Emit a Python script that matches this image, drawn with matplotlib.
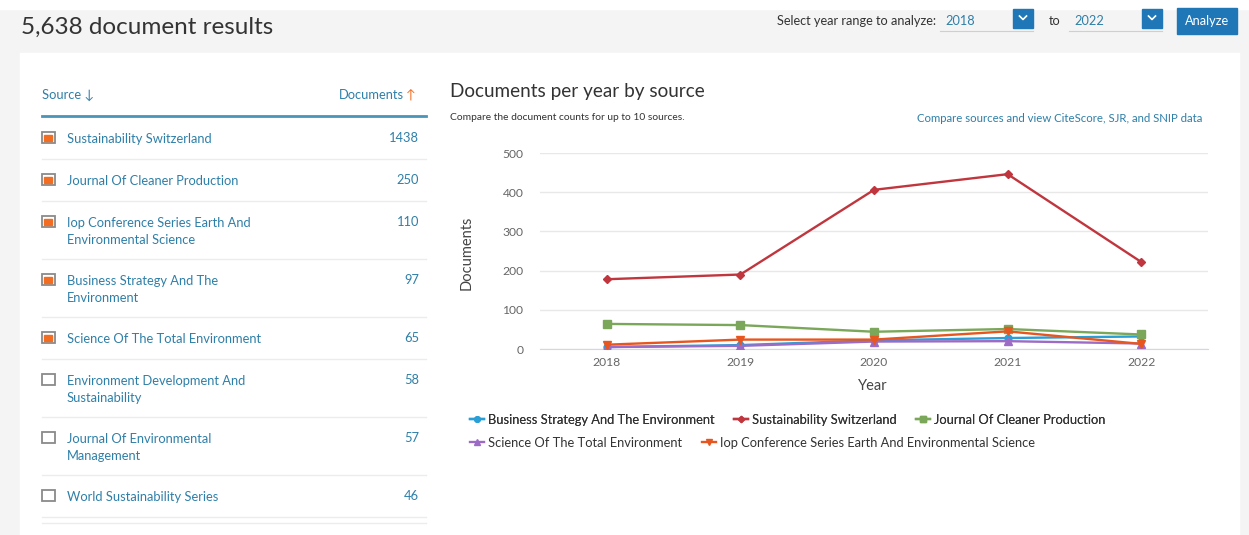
import numpy as np
import matplotlib.pyplot as plt
from matplotlib.patches import Rectangle

plt.rcParams['font.family'] = ['Lato', 'DejaVu Sans']

W, H = 1249, 535

# chart data
years = ["2018", "2019", "2020", "2021", "2022"]
business = [5, 10, 22, 28, 32]
sustain = [178, 190, 406, 446, 222]
cleaner = [64, 61, 44, 51, 37]
science = [5, 8, 19, 20, 14]
iop = [11, 24, 24, 45, 13]

# left table
sources = ["Sustainability Switzerland", "Journal Of Cleaner Production",
           "Iop Conference Series Earth And\nEnvironmental Science",
           "Business Strategy And The\nEnvironment",
           "Science Of The Total Environment",
           "Environment Development And\nSustainability",
           "Journal Of Environmental\nManagement",
           "World Sustainability Series"]
counts = [1438, 250, 110, 97, 65, 58, 57, 46]
selected = [True, True, True, True, True, False, False, False]

LINK = '#2e7fa8'
DARK = '#333333'
GREY = '#666666'

fig = plt.figure(figsize=(W / 100, H / 100), dpi=100)
bg = fig.add_axes([0, 0, 1, 1])
bg.set_xlim(0, W)
bg.set_ylim(H, 0)
bg.axis('off')

bg.add_patch(Rectangle((0, 0), W, H, color='#f4f4f4'))
bg.add_patch(Rectangle((0, 0), W, 9, color='white'))
bg.add_patch(Rectangle((20, 53), 1219, H - 53, color='white'))

# header
bg.text(21, 27, "5,638 document results", fontsize=17.5, color=DARK, va='center')
bg.text(777, 21, "Select year range to analyze:", fontsize=9.2, color=DARK, va='center')
for x0, yr, bx in [(945, "2018", 1013), (1074, "2022", 1142)]:
    bg.text(x0, 21, yr, fontsize=9.2, color=LINK, va='center')
    bg.plot([x0 - 5, bx + 20], [31, 31], color='#cfcfcf', lw=0.8)
    bg.add_patch(Rectangle((bx, 9), 20, 19, color='#1f77b8'))
    bg.plot([bx + 6.5, bx + 10, bx + 13.5], [16, 19.5, 16], color='white', lw=1.2)
bg.text(1049, 21, "to", fontsize=9.2, color=DARK, va='center')
bg.add_patch(Rectangle((1177, 8), 60, 26, color='#1f77b8'))
bg.text(1207, 21, "Analyze", fontsize=9.2, color='white', va='center', ha='center')

# left table
bg.text(42, 95, "Source \u2193", fontsize=9.3, color=LINK, va='center')
bg.text(404, 95, "Documents", fontsize=9.3, color=LINK, va='center', ha='right')
bg.text(406, 95, "\u2191", fontsize=9.3, color='#f26d21', va='center', ha='left')
bg.plot([42, 426], [116, 116], color='#4a94b8', lw=2)
top = 117
for name, n, sel in zip(sources, counts, selected):
    lines = name.count("\n") + 1
    ty = top + 21
    bg.add_patch(Rectangle((42, ty - 6), 13, 11, facecolor='white',
                           edgecolor='#8a8a8a', lw=1.3))
    if sel:
        bg.add_patch(Rectangle((44.5, ty - 3.5), 8, 6, color='#f26d21'))
    bg.text(67, ty - 5, name, fontsize=9.3, color=LINK, va='top', ha='left',
            linespacing=1.45)
    bg.text(419, ty, str(n), fontsize=9.3, color=LINK, va='center', ha='right')
    top += 42 + 16 * (lines - 1)
    bg.plot([42, 426], [top, top], color='#ececec', lw=1)
bg.plot([42, 426], [523, 523], color='#ececec', lw=1)

# chart header
bg.text(450, 92, "Documents per year by source", fontsize=13.6, color=DARK, va='center')
bg.text(450, 118, "Compare the document counts for up to 10 sources.", fontsize=7.4,
        color=DARK, va='center')
bg.text(1202, 118, "Compare sources and view CiteScore, SJR, and SNIP data", fontsize=8.2,
        color=LINK, va='center', ha='right')

# chart
ax = fig.add_axes([540 / W, 1 - 349 / H, (1208 - 540) / W, (349 - 153) / H])
ax.patch.set_alpha(0)
x = np.arange(len(years))
series = [
    ("Business Strategy And The Environment", business, '#2a9fd6', 'o', 5),
    ("Sustainability Switzerland", sustain, '#c0363e', 'D', 4),
    ("Journal Of Cleaner Production", cleaner, '#7aa75a', 's', 5.5),
    ("Science Of The Total Environment", science, '#9c6bc6', '^', 6),
    ("Iop Conference Series Earth And Environmental Science", iop, '#e8561f', 'v', 6),
]
handles = []
zs = [3, 6, 4, 3.5, 5]
for (lab, vals, col, mk, ms), z in zip(series, zs):
    h, = ax.plot(x, vals, color=col, marker=mk, ms=ms, lw=1.7, label=lab, zorder=z)
    handles.append(h)

ax.set_xlim(-0.5, 4.5)
ax.set_ylim(0, 500)
ax.set_yticks(range(0, 501, 100))
ax.set_xticks(x)
ax.set_xticklabels(years)
ax.grid(axis='y', color='#e8e8e8', lw=1)
ax.set_axisbelow(True)
for s in ['top', 'right', 'left']:
    ax.spines[s].set_visible(False)
ax.spines['bottom'].set_color('#d4d4ec')
ax.tick_params(length=0, labelsize=8.7, colors=GREY)
ax.tick_params(axis='y', pad=12)
ax.tick_params(axis='x', pad=6)

bg.text(467, 253, "Documents", fontsize=10.5, color='#444444', rotation=90,
        va='center', ha='center')
bg.text(873, 386, "Year", fontsize=10.5, color='#444444', va='center', ha='center')

leg_kw = dict(loc='center left', frameon=False, fontsize=9.3, handlelength=1.1,
              handletextpad=0.3, columnspacing=1.5, borderaxespad=0, borderpad=0,
              labelcolor=DARK, markerscale=0.8)
leg1 = fig.legend(handles=handles[:3], ncol=3, bbox_to_anchor=(470 / W, 1 - 420 / H), **leg_kw)
fig.add_artist(leg1)
fig.legend(handles=handles[3:], ncol=2, bbox_to_anchor=(470 / W, 1 - 443 / H), **leg_kw)

fig.savefig("out.png", dpi=100)
